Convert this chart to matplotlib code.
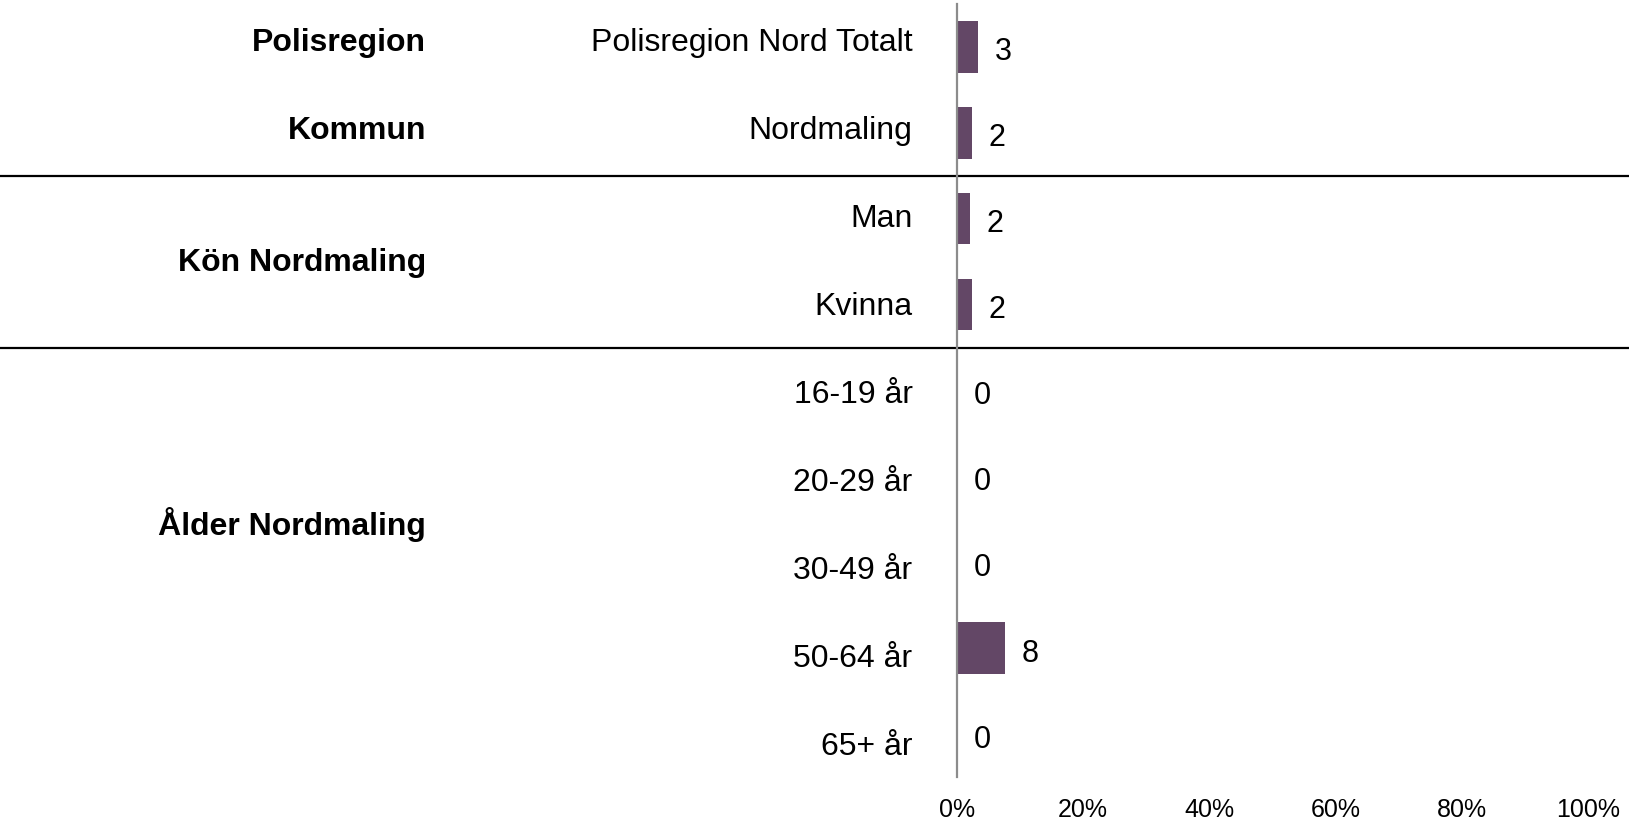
import matplotlib
matplotlib.use("Agg")
import matplotlib.pyplot as plt
from matplotlib.transforms import blended_transform_factory

plt.rcParams['font.family'] = ['Liberation Sans', 'DejaVu Sans']

categories = ["Polisregion Nord Totalt", "Nordmaling", "Man", "Kvinna",
              "16-19 år", "20-29 år", "30-49 år", "50-64 år", "65+ år"]
values = [3.3, 2.4, 2.1, 2.3, 0, 0, 0, 7.6, 0]
groups = ["Polisregion", "Kommun", "Kön Nordmaling", "Ålder Nordmaling"]
group_rows = [0, 1, 2.5, 5.5]
separators = [1.5, 3.5]
xticks = [0, 20, 40, 60, 80, 100]

bar_color = "#634766"
rect = [957 / 1629, 1 - 777 / 823, 631 / 1629, 773 / 823]

fig = plt.figure(figsize=(16.29, 8.23), dpi=100)
ax = fig.add_axes(rect)

ypos = list(range(len(categories)))
ax.barh(ypos, values, height=0.6, color=bar_color)

for y, v in zip(ypos, values):
    ax.annotate(f"{v:.0f}", xy=(v, y), xytext=(12, -9.7), textcoords="offset points",
                ha="left", va="baseline", fontsize=22)

ax.set_xlim(0, 100)
ax.set_ylim(8.5, -0.5)
ax.set_yticks([])
ax.set_xticks(xticks)
ax.set_xticklabels([f"{t}%" for t in xticks], fontsize=18)
ax.tick_params(axis="x", length=0, pad=15)

for s in ["top", "right", "bottom"]:
    ax.spines[s].set_visible(False)
ax.spines["left"].set_color("#8c8c8c")
ax.spines["left"].set_linewidth(1.6)

trans = blended_transform_factory(fig.transFigure, ax.transData)
for s in separators:
    ax.plot([0, 1], [s, s], transform=trans, color="black", linewidth=1.6, clip_on=False)

# text rows sit on a slightly wider spacing than the bars
ax2 = fig.add_axes(rect, frameon=False)
ax2.set_xticks([])
ax2.set_ylim(8.25, -0.534)
ax2.set_yticks(ypos)
ax2.set_yticklabels(categories, fontsize=23, va="baseline")
ax2.tick_params(axis="y", length=0, pad=32)

trans2 = blended_transform_factory(fig.transFigure, ax2.transData)
for g, r in zip(groups, group_rows):
    ax2.text(426 / 1629, r, g, transform=trans2, ha="right", va="baseline",
             fontsize=23, fontweight="bold")

fig.savefig("out.png", dpi=100)
